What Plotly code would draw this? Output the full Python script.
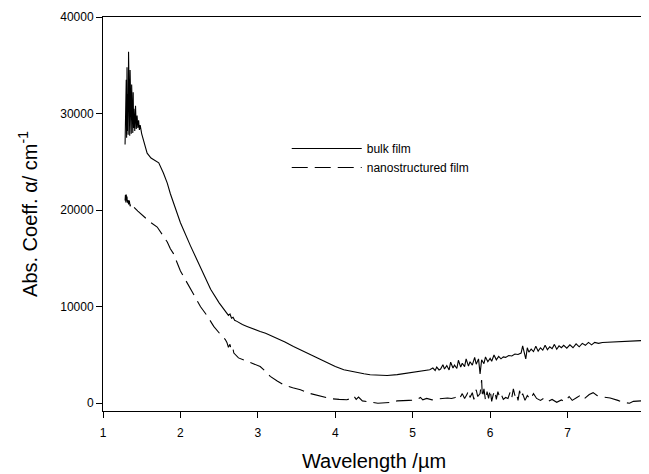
import plotly.graph_objects as go

bulk_x = [1.285, 1.29, 1.295, 1.30, 1.305, 1.31, 1.315, 1.32, 1.325, 1.33, 1.335, 1.34, 1.345, 1.35, 1.355,
          1.36, 1.365, 1.37, 1.375, 1.38, 1.385, 1.39, 1.395, 1.40, 1.41, 1.42, 1.43, 1.44, 1.45, 1.46, 1.47,
          1.48, 1.50, 1.53, 1.57, 1.62, 1.66, 1.72, 1.78, 1.83, 1.87, 1.91, 2.0, 2.13, 2.22, 2.32, 2.39, 2.5,
          2.6, 2.62, 2.64, 2.66, 2.68, 2.7, 2.73, 2.8, 2.86, 2.95, 3.03, 3.1, 3.25, 3.35, 3.46, 3.57, 3.68,
          3.78, 3.89, 4.0, 4.11, 4.2, 4.28, 4.37, 4.45, 4.56, 4.67, 4.8, 4.93, 5.04, 5.14, 5.22,
          5.26, 5.29, 5.31, 5.34, 5.36, 5.39, 5.41, 5.44, 5.47, 5.49, 5.52, 5.54, 5.57, 5.59, 5.62, 5.64,
          5.67, 5.69, 5.72, 5.74, 5.77, 5.80, 5.82, 5.85, 5.87, 5.89, 5.92, 5.94, 5.97, 6.00, 6.02, 6.05,
          6.08, 6.11, 6.14, 6.17, 6.20, 6.24, 6.28, 6.32, 6.36, 6.40, 6.42, 6.44, 6.46, 6.48, 6.50, 6.53,
          6.56, 6.59, 6.62, 6.65, 6.68, 6.71, 6.74, 6.77, 6.80, 6.83, 6.86, 6.89, 6.92, 6.95, 6.99, 7.03,
          7.07, 7.11, 7.15, 7.19, 7.23, 7.27, 7.31, 7.35, 7.40, 7.45, 7.55, 7.7, 7.85, 8.0]
bulk_y = [26800, 30500, 28000, 33500, 27500, 34800, 28200, 32000, 27800, 36400, 28500, 33000, 27700, 34500, 28800,
          31500, 27900, 33000, 28600, 31000, 28000, 32200, 28500, 30500, 28200, 30800, 28400, 29800, 28500, 29300, 28300,
          28800, 27900, 27000, 25900, 25400, 25200, 24900, 23850, 22800, 21700, 20700, 18700, 16300, 14700, 13000, 11800, 10400,
          9350, 9100, 9250, 8800, 8900, 8600, 8480, 8150, 7960, 7650, 7440, 7250, 6760, 6350, 5890, 5450, 5030,
          4600, 4170, 3800, 3470, 3300, 3190, 3050, 2950, 2900, 2880, 2970, 3130, 3260, 3400, 3480,
          3650, 3400, 3750, 3450, 3550, 4000, 3550, 3900, 3450, 4250, 3650, 3950, 3600, 4450, 3750, 4150,
          3800, 4600, 3850, 4300, 3950, 4750, 4050, 4600, 3050, 4500, 4100, 4800, 4300, 4650, 4350, 5000,
          4500, 4850, 4600, 4800, 4750, 4950, 4900, 5100, 5050, 5200, 5950, 5100, 4600, 5750, 5300, 5600,
          5350, 5900, 5400, 5750, 5500, 6000, 5550, 5850, 5650, 6100, 5600, 5950, 5750, 6000, 5700, 6050,
          5750, 6150, 5850, 6200, 6000, 6300, 6050, 6300, 6200, 6300, 6330, 6400, 6460, 6510]

nano_x = [1.285, 1.29, 1.295, 1.30, 1.305, 1.31, 1.315, 1.32, 1.33, 1.34, 1.35, 1.36, 1.38, 1.40, 1.45,
          1.53, 1.61, 1.70, 1.74, 1.78, 1.83, 1.87, 1.91, 2.0, 2.09, 2.17, 2.26, 2.35, 2.43, 2.52, 2.58,
          2.60, 2.62, 2.64, 2.66, 2.68, 2.69, 2.75, 2.86, 2.95, 3.03, 3.10, 3.16, 3.25, 3.33, 3.45, 3.55, 3.68,
          3.81, 3.94, 4.05, 4.15, 4.2, 4.24, 4.27, 4.3, 4.35, 4.45, 4.55, 4.7, 4.8, 4.95, 5.05, 5.1, 5.13,
          5.18, 5.25, 5.35, 5.45, 5.5,
          5.55, 5.58, 5.61, 5.64, 5.67, 5.70, 5.72, 5.74, 5.77, 5.79, 5.82, 5.84, 5.87, 5.89, 5.90, 5.92,
          5.94, 5.96, 5.98, 6.00, 6.02, 6.04, 6.06, 6.08, 6.10, 6.12, 6.14, 6.17, 6.20, 6.23, 6.26, 6.28,
          6.30, 6.32, 6.34, 6.36, 6.38, 6.40, 6.42, 6.45, 6.48, 6.52, 6.56, 6.60, 6.65, 6.70, 6.75, 6.80,
          6.86, 6.92, 6.96, 7.02, 7.06, 7.12, 7.18, 7.22, 7.28, 7.33, 7.38, 7.45, 7.55, 7.65, 7.72, 7.80,
          7.85, 8.0]
nano_y = [21000, 21600, 20800, 21700, 21000, 21400, 20700, 21200, 20600, 21000, 20400, 20700, 20300, 20300, 19900,
          19350, 18750, 18250, 17800, 17300, 16700, 16000, 15500, 13700, 12400, 11200, 10000, 9000, 7960, 7100, 6600,
          6300, 5800, 6100, 5400, 5600, 5200, 4700, 4330, 4100, 3810, 3300, 2780, 2300, 1920, 1600, 1400, 1000,
          700, 470, 400, 360, 500, 750, 400, 650, 250, 100, 0, 80, 250, 300, 350, 600, 350,
          500, 350, 470, 550, 500,
          600, 800, 550, 1000, 500, 900, 1300, 600, 1100, 400, 1400, 700, 1000, 2400, 600, 1500,
          300, 1200, 500, 1400, 200, 900, 1300, 400, 1200, 700, 1000, 400, 600, 500, 1200, 600,
          1500, 800, 1100, 300, 1300, 600, 1000, 300, 800, 400, 1000, 500, 300, 550, 200, 400,
          100, 350, 150, 700, 300, 600, 900, 500, 900, 1100, 800, 650, 550, 300, 100, 0,
          200, 280]

series_names = ["bulk film", "nanostructured film"]
x_ticks = [1, 2, 3, 4, 5, 6, 7, 8]
y_ticks = [0, 10000, 20000, 30000, 40000]
y_tick_labels = ["0", "10000", "20000", "30000", "40000"]

fig = go.Figure()
fig.add_trace(go.Scatter(x=bulk_x, y=bulk_y, mode="lines", name=series_names[0],
                         line=dict(color="black", width=1.1)))
fig.add_trace(go.Scatter(x=nano_x, y=nano_y, mode="lines", name=series_names[1],
                         line=dict(color="black", width=1.1, dash="16px,7px")))

font_family = "Liberation Sans, Arial, sans-serif"
fig.update_layout(
    width=641, height=466,
    margin=dict(l=95, r=4, t=9, b=63),
    paper_bgcolor="white", plot_bgcolor="white",
    font=dict(family=font_family, color="black", size=12),
    showlegend=True,
    legend=dict(x=0.339, y=0.703, xanchor="left", yanchor="top",
                bgcolor="rgba(0,0,0,0)", itemwidth=70, font=dict(size=12), tracegroupgap=0),
    xaxis=dict(range=[1, 8], tickvals=x_ticks, ticks="outside", ticklen=6, tickcolor="black",
               showline=True, linecolor="black", linewidth=1, mirror=True, showgrid=False, zeroline=False,
               tickfont=dict(size=12), automargin=False, ticklabelstandoff=5, ticklabeloverflow="allow",
               title=dict(text="Wavelength /µm", font=dict(size=20), standoff=14)),
    yaxis=dict(range=[-800, 40000], tickvals=y_ticks, ticktext=y_tick_labels, ticks="outside", ticklen=6,
               tickcolor="black",
               showline=True, linecolor="black", linewidth=1, mirror=True, showgrid=False, zeroline=False,
               tickfont=dict(size=12), automargin=False,
               title=dict(text="Abs. Coeff. α/ cm<sup>-1</sup>", font=dict(size=20), standoff=17)),
)

fig.write_html("out.html")
